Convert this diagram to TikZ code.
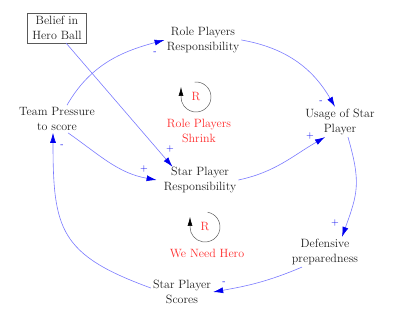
\documentclass[tikz,border=0pt]{standalone}
\usepackage{tikz}
\usetikzlibrary{arrows.meta}
\definecolor{LinkBlue}{HTML}{7A7AFF}
\definecolor{TipBlue}{HTML}{0000F0}
\definecolor{LoopRed}{HTML}{FF2B2B}
\definecolor{Ink}{HTML}{1E1E1E}

\begin{document}
\begin{tikzpicture}[x=1pt,y=1pt,
    var/.style={align=center,text=Ink,font=\fontsize{12}{15}\selectfont,inner sep=2pt},
    conn/.style={LinkBlue,line width=.6pt,-{Latex[length=10pt,width=6pt,color=TipBlue]}},
    polarity/.style={text=TipBlue,font=\fontsize{10}{10}\selectfont,inner sep=0pt},
    loopline/.style={gray!70!black,line width=.5pt,-{Latex[length=9pt,width=5pt,color=black]}},
    loopname/.style={align=center,text=LoopRed,font=\fontsize{12}{15}\selectfont,inner sep=1pt}]
  \useasboundingbox (0,0) rectangle (400,320);
  \node[var,draw=gray!70!black,inner xsep=5pt,inner ysep=3pt] (hero) at (57,292) {Belief in\\Hero Ball};
  \node[var] (rp) at (203,280) {Role Players\\Responsibility};
  \node[var] (tp) at (57,201) {Team Pressure\\to score};
  \node[var] (us) at (340,198) {Usage of Star\\Player};
  \node[var] (sp) at (200,140) {Star Player\\Responsibility};
  \node[var] (dp) at (325,68) {Defensive\\preparedness};
  \node[var] (ss) at (182,28) {Star Player\\Scores};

  \node[loopname] (r1) at (196,223) {R};
  \node[loopname] (n1) at (199,189) {Role Players\\Shrink};
  \node[loopname] (r2) at (205,93) {R};
  \node[loopname] (n2) at (207,67) {We Need Hero};
  \draw[loopline] ([shift={(95:15pt)}]r1.center) arc[start angle=95,end angle=-180,radius=15pt] -- ++(0,10pt);
  \draw[loopline] ([shift={(80:15pt)}]r2.center) arc[start angle=80,end angle=-180,radius=15pt] -- ++(0,10pt);

  \draw[conn] ([xshift=10pt]tp.north) to[out=60,in=195] (rp.west);
  \draw[conn] ([xshift=9pt]hero.south) -- ([xshift=11pt,yshift=-2pt]sp.north west);
  \draw[conn] ([xshift=11pt]tp.south) to[out=-35,in=170] ([xshift=-5pt]sp.west);
  \draw[conn] (rp.east) to[out=-10,in=120] ([xshift=-5pt]us.north);
  \draw[conn] (sp.east) to[out=12,in=210] ([xshift=-15pt]us.south);
  \draw[conn] ([xshift=8pt]us.south) to[out=-74,in=70,looseness=1.2] ([xshift=17pt]dp.north);
  \draw[conn] ([xshift=-23pt]dp.south) to[out=203,in=10] (ss.east);
  \draw[conn] ([yshift=4pt]ss.west) to[out=160,in=-90,looseness=1.35] ([xshift=-4pt]tp.south);

  \node[polarity] (s1) at (155,267) {-};
  \node[polarity] (s2) at (170,171) {+};
  \node[polarity] (s3) at (144,151) {+};
  \node[polarity] (s4) at (321,218) {-};
  \node[polarity] (s5) at (310,184) {+};
  \node[polarity] (s6) at (335,97) {+};
  \node[polarity] (s7) at (224,37) {-};
  \node[polarity] (s8) at (62,174) {-};
\end{tikzpicture}
\end{document}
